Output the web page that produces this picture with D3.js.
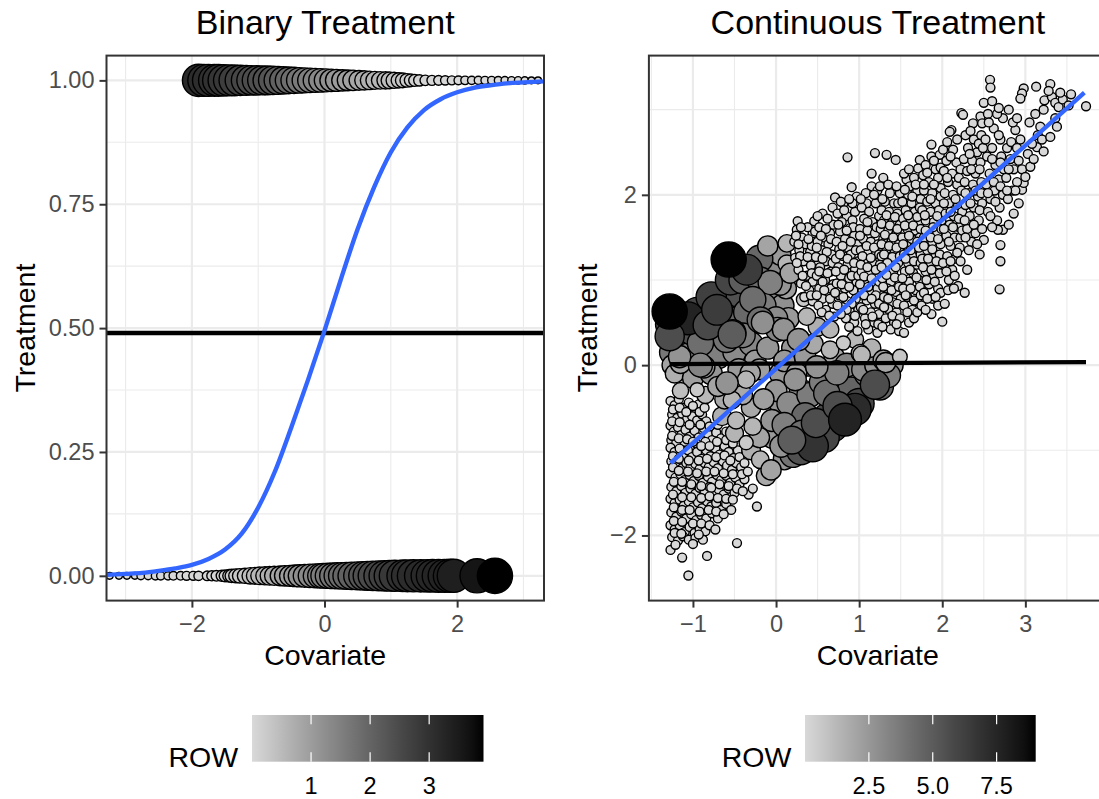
<!DOCTYPE html>
<html>
<head>
<meta charset="utf-8">
<script src="https://cdn.jsdelivr.net/npm/d3@7"></script>
<style>
  body { margin: 0; background: #fff; }
  text { font-family: "Liberation Sans", Arial, Helvetica, sans-serif; }
</style>
</head>
<body>
<svg id="chart" width="1099" height="799"></svg>
<script>
// ---- Binary treatment: [covariate, ROW], treatment = 1 (top) and 0 (bottom)
var binTop = [[-1.9,3.15],[-1.82,3.1],[-1.75,3.08],[-1.66,3.04],[-1.6,3.0],[-1.52,2.92],[-1.44,2.85],[-1.36,2.76],
  [-1.27,2.68],[-1.18,2.58],[-1.1,2.5],[-1.02,2.45],[-0.94,2.41],[-0.86,2.37],[-0.78,2.3],[-0.7,2.18],[-0.62,2.06],
  [-0.54,1.94],[-0.46,1.82],[-0.38,1.7],[-0.3,1.6],[-0.22,1.52],[-0.14,1.44],[-0.06,1.36],[0.02,1.28],[0.1,1.2],
  [0.18,1.12],[0.27,1.03],[0.35,0.96],[0.43,0.9],[0.52,0.82],[0.6,0.74],[0.68,0.67],[0.76,0.61],[0.84,0.56],
  [0.92,0.52],[0.98,0.48],[1.05,0.42],[1.12,0.35],[1.18,0.3],[1.24,0.22],[1.3,0.17],[1.36,0.13],[1.43,0.1],
  [1.52,0.07],[1.62,0.05],[1.72,0.04],[1.82,0.03],[1.92,0.025],[2.02,0.02],[2.12,0.015],[2.22,0.012],[2.32,0.01],
  [2.42,0.008],[2.52,0.006],[2.62,0.005],[2.72,0.004],[2.82,0.003],[2.92,0.002],[3.02,0.001],[3.12,0.0],[3.22,0.0]];
var binBot = [[-3.24,0.0],[-3.1,0.0],[-2.98,0.0],[-2.86,0.0],[-2.77,0.005],[-2.66,0.005],[-2.55,0.01],[-2.47,0.01],
  [-2.36,0.01],[-2.28,0.015],[-2.17,0.015],[-2.08,0.02],[-1.98,0.02],[-1.9,0.03],[-1.77,0.04],[-1.7,0.05],[-1.63,0.07],
  [-1.55,0.09],[-1.5,0.12],[-1.44,0.16],[-1.4,0.2],[-1.34,0.24],[-1.28,0.28],[-1.2,0.34],[-1.12,0.45],[-1.05,0.5],
  [-0.98,0.56],[-0.9,0.62],[-0.83,0.68],[-0.76,0.74],[-0.67,0.82],[-0.6,0.9],[-0.52,0.98],[-0.45,1.06],[-0.38,1.14],
  [-0.3,1.23],[-0.22,1.33],[-0.14,1.42],[-0.07,1.5],[-0.02,1.55],[0.05,1.63],[0.12,1.72],[0.19,1.8],[0.26,1.88],
  [0.33,1.97],[0.41,2.06],[0.5,2.17],[0.58,2.28],[0.65,2.38],[0.73,2.5],[0.82,2.6],[0.9,2.68],[0.98,2.76],[1.06,2.85],
  [1.18,3.0],[1.25,3.04],[1.34,3.1],[1.45,3.15],[1.55,3.18],[1.63,3.22],[1.72,3.26],[1.81,3.3],[1.89,3.34],[1.95,3.38],
  [2.3,3.62],[2.57,3.92]];
// logistic fit: [covariate, treatment]
var binCurve = [[-3.29,0.002],[-3.0,0.004],[-2.75,0.006],[-2.5,0.01],[-2.25,0.015],[-2.0,0.022],[-1.75,0.034],
  [-1.5,0.053],[-1.25,0.085],[-1.0,0.138],[-0.75,0.21],[-0.5,0.3],[-0.25,0.395],[0.0,0.495],[0.25,0.6],[0.5,0.7],
  [0.75,0.785],[1.0,0.855],[1.25,0.905],[1.5,0.94],[1.75,0.962],[2.0,0.976],[2.25,0.985],[2.5,0.99],[2.75,0.994],
  [3.0,0.996],[3.31,0.998]];
var binMean = 0.49;
var binRowMax = 3.92;

// ---- Continuous treatment: light dots [covariate, treatment]
var conSmallRow = 0.05;
var conSmallA = [[-1.27,-0.42],[-1.22,-0.47],[-1.17,-0.4],[-1.11,-0.5],[-1.05,-0.44],[-0.99,-0.52],[-0.93,-0.46],
  [-1.25,-0.58],[-1.19,-0.62],[-1.13,-0.57],[-1.07,-0.63],[-1.01,-0.6],[-0.95,-0.65],[-0.89,-0.58],[-0.84,-0.66],
  [-1.27,-0.71],[-1.23,-0.78],[-1.18,-0.73],[-1.14,-0.82],[-1.09,-0.76],[-1.04,-0.84],[-0.98,-0.77],[-0.93,-0.85],
  [-0.87,-0.74],[-0.82,-0.81],[-0.77,-0.88],[-0.72,-0.79],[-0.66,-0.86],[-1.26,-0.88],[-1.2,-0.91],[-1.1,-0.9],
  [-0.96,-0.92],[-0.85,-0.9],[-1.27,-0.97],[-1.22,-1.02],[-1.16,-0.98],[-1.12,-1.06],[-1.06,-1.0],[-1.01,-1.08],
  [-0.95,-1.02],[-0.9,-1.1],[-0.84,-1.0],[-0.79,-1.07],[-0.73,-0.98],[-0.68,-1.05],[-0.62,-0.95],[-0.57,-1.02],
  [-0.51,-1.09],[-0.46,-1.0],[-1.26,-1.13],[-1.19,-1.17],[-1.13,-1.21],[-1.08,-1.15],[-1.03,-1.2],[-0.97,-1.16],
  [-0.92,-1.22],[-0.86,-1.15],[-0.81,-1.2],[-0.75,-1.14],[-0.7,-1.21],[-0.64,-1.13],[-0.59,-1.18],[-0.53,-1.23],
  [-0.48,-1.15],[-0.42,-1.2],[-1.27,-1.27],[-1.21,-1.32],[-1.15,-1.28],[-1.1,-1.35],[-1.04,-1.29],[-0.99,-1.36],
  [-0.93,-1.3],[-0.88,-1.38],[-0.82,-1.31],[-0.77,-1.37],[-0.71,-1.29],[-0.66,-1.35],[-0.6,-1.3],[-0.55,-1.38],
  [-0.49,-1.32],[-0.44,-1.4],[-0.38,-1.34],[-1.26,-1.43],[-1.2,-1.48],[-1.14,-1.42],[-1.09,-1.5],[-1.03,-1.45],
  [-0.97,-1.51],[-0.92,-1.44],[-0.86,-1.49],[-0.8,-1.43],[-0.75,-1.5],[-0.69,-1.46],[-0.63,-1.52],[-0.57,-1.45],
  [-0.5,-1.5],[-1.27,-1.57],[-1.22,-1.62],[-1.16,-1.58],[-1.11,-1.65],[-1.05,-1.6],[-1.0,-1.67],[-0.94,-1.61],
  [-0.89,-1.68],[-0.83,-1.6],[-0.78,-1.66],[-0.72,-1.62],[-0.66,-1.7],[-0.6,-1.63],[-1.26,-1.73],[-1.2,-1.78],
  [-1.14,-1.72],[-1.08,-1.8],[-1.02,-1.75],[-0.96,-1.82],[-0.9,-1.76],[-0.84,-1.8],[-0.77,-1.74],[-0.7,-1.8],
  [-1.27,-1.88],[-1.22,-1.93],[-1.16,-1.88],[-1.1,-1.96],[-1.04,-1.9],[-0.98,-1.97],[-0.92,-1.92],[-0.85,-1.95],
  [-1.25,-2.02],[-1.18,-2.06],[-1.12,-2.01],[-1.05,-2.05],[-0.97,-2.03],[-0.88,-2.05],[-1.27,-2.17],[-1.13,-2.26],
  [-1.055,-2.47],[-0.83,-2.24],[-0.47,-2.09],[-0.54,-1.7],[-0.23,-1.66],[-0.33,-1.52],[-0.28,-1.45],
  [-1.24,-0.52],[-1.16,-0.5],[-1.08,-0.55],[-1.0,-0.48],[-0.92,-0.55],[-0.86,-0.5],[-1.25,-0.66],[-1.16,-0.67],
  [-1.04,-0.7],[-0.91,-0.7],[-0.8,-0.72],[-0.7,-0.7],[-0.6,-0.78],[-1.25,-0.83],[-1.17,-0.86],[-1.07,-0.87],
  [-1.0,-0.9],[-0.9,-0.95],[-0.8,-0.95],[-0.71,-0.9],[-0.6,-0.88],[-0.52,-0.92],[-1.24,-1.07],[-1.17,-1.1],
  [-1.05,-1.12],[-0.93,-1.12],[-0.83,-1.1],[-0.72,-1.08],[-0.62,-1.06],[-0.55,-1.12],[-0.44,-1.08],[-0.38,-1.15],
  [-1.24,-1.2],[-1.17,-1.24],[-1.06,-1.25],[-0.95,-1.27],[-0.84,-1.25],[-0.74,-1.25],[-0.63,-1.27],[-0.52,-1.28],
  [-0.41,-1.28],[-0.34,-1.25],[-1.23,-1.37],[-1.13,-1.37],[-1.02,-1.4],[-0.9,-1.42],[-0.78,-1.44],[-0.68,-1.4],
  [-0.57,-1.42],[-0.47,-1.45],[-0.4,-1.48],[-1.24,-1.52],[-1.13,-1.55],[-1.02,-1.55],[-0.9,-1.56],[-0.8,-1.54],
  [-0.7,-1.56],[-0.6,-1.57],[-0.52,-1.58],[-1.23,-1.67],[-1.13,-1.7],[-1.04,-1.7],[-0.92,-1.72],[-0.81,-1.7],
  [-0.72,-1.72],[-0.63,-1.75],[-1.23,-1.83],[-1.13,-1.84],[-1.0,-1.86],[-0.9,-1.86],[-0.8,-1.88],[-0.73,-1.93],
  [-1.22,-1.97],[-1.14,-1.98],[-1.0,-2.1],[-1.21,-2.11],[-0.93,-1.99]];
var conSmallB = [[0.26,1.69],[0.25,1.59],[0.31,1.5],[0.22,1.45],[0.35,1.42],[0.28,1.35],[0.41,1.33],[0.23,1.26],
  [0.33,1.22],[0.42,1.17],[0.27,1.12],[0.37,1.05],[0.44,0.98],[0.3,0.96],[0.4,0.88],[0.44,1.55],[0.38,1.62],[0.43,1.4],
  [0.34,0.8],[0.44,0.75],[0.24,1.52],[0.3,1.62],[0.39,1.48],[0.29,1.28],[0.38,1.27],[0.25,1.2],[0.32,1.05],[0.43,1.08],
  [0.36,0.93],[0.42,0.82],[0.27,1.42],
  [0.46,1.69],[0.47,1.57],[0.52,1.62],[0.58,1.5],[0.5,1.45],[0.63,1.42],[0.55,1.35],[0.67,1.3],[0.48,1.27],[0.6,1.22],
  [0.53,1.15],[0.66,1.1],[0.49,1.05],[0.59,1.0],[0.69,0.95],[0.52,0.9],[0.63,0.85],[0.56,0.78],[0.68,0.72],[0.6,0.65],
  [0.7,0.57],[0.65,1.55],[0.69,1.65],[0.56,1.78],[0.62,1.72],[0.68,1.85],[0.51,0.7],[0.5,1.75],[0.6,1.6],[0.54,1.52],
  [0.66,1.48],[0.49,1.38],[0.61,1.33],[0.56,1.25],[0.68,1.2],[0.52,1.1],[0.62,1.08],[0.56,0.98],[0.66,0.9],[0.58,0.88],
  [0.49,0.82],[0.65,0.78],[0.55,0.62],[0.64,0.58],
  [0.71,1.97],[0.81,1.9],[0.91,2.09],[0.97,1.98],[0.77,1.57],[0.89,1.61],[0.74,1.78],[0.85,1.75],[0.95,1.8],
  [0.79,1.68],[0.92,1.7],[0.73,1.45],[0.83,1.48],[0.94,1.52],[0.76,1.36],[0.87,1.38],[0.98,1.42],[0.72,1.25],
  [0.81,1.28],[0.9,1.3],[0.99,1.22],[0.75,1.15],[0.86,1.18],[0.95,1.12],[0.78,1.05],[0.88,1.02],[0.97,0.98],
  [0.73,0.96],[0.83,0.9],[0.93,0.88],[0.76,0.82],[0.86,0.75],[0.96,0.78],[0.8,0.68],[0.9,0.62],[0.99,0.65],
  [0.84,0.55],[0.94,0.5],[0.88,0.45],[0.98,0.4],[0.92,1.9],[0.86,2.44],[0.78,1.92],[0.88,1.95],[0.82,1.82],[0.93,1.62],
  [0.75,1.65],[0.85,1.58],[0.8,1.4],[0.9,1.45],[0.96,1.35],[0.77,1.3],[0.86,1.25],[0.94,1.2],[0.72,1.1],[0.82,1.12],
  [0.91,1.05],[0.99,1.05],[0.79,0.95],[0.88,0.92],[0.71,0.85],[0.81,0.8],[0.91,0.72],[0.74,0.7],[0.85,0.65],
  [0.95,0.58],[0.78,0.6],
  [1.19,2.49],[1.09,1.9],[1.15,2.1],[1.22,2.05],[1.03,1.85],[1.12,1.8],[1.2,1.9],[1.06,1.72],[1.16,1.68],[1.24,1.75],
  [1.01,1.6],[1.1,1.58],[1.19,1.55],[1.05,1.48],[1.14,1.45],[1.23,1.42],[1.02,1.35],[1.11,1.32],[1.2,1.3],[1.07,1.22],
  [1.16,1.2],[1.25,1.18],[1.03,1.1],[1.12,1.08],[1.21,1.05],[1.08,0.98],[1.17,0.95],[1.04,0.88],[1.13,0.85],[1.22,0.9],
  [1.09,0.76],[1.19,0.72],[1.02,0.68],[1.14,0.62],[1.24,0.6],[1.07,0.55],[1.18,0.5],[1.11,0.42],[1.22,0.38],[1.15,2.25],
  [1.08,2.02],[1.18,2.0],[1.02,1.95],[1.1,1.68],[1.21,1.62],[1.01,1.52],[1.09,1.4],[1.18,1.38],[1.24,1.3],[1.04,1.28],
  [1.14,1.26],[1.02,1.18],[1.1,1.15],[1.2,1.12],[1.06,1.04],[1.15,1.02],[1.24,0.98],[1.01,0.95],[1.11,0.92],[1.2,0.82],
  [1.06,0.82],[1.15,0.78],[1.24,0.72],[1.05,0.65],[1.16,0.57],[1.23,0.48],[1.08,0.48],
  [1.33,2.47],[1.44,2.41],[1.29,2.2],[1.25,2.1],[1.37,2.02],[1.49,2.02],[1.31,1.92],[1.42,1.9],[1.27,1.82],[1.36,1.8],
  [1.46,1.78],[1.3,1.7],[1.4,1.68],[1.49,1.65],[1.26,1.6],[1.35,1.58],[1.45,1.55],[1.29,1.48],[1.39,1.45],[1.48,1.42],
  [1.33,1.36],[1.43,1.33],[1.27,1.28],[1.37,1.24],[1.47,1.2],[1.31,1.14],[1.41,1.1],[1.28,1.02],[1.38,0.98],[1.48,1.0],
  [1.34,0.9],[1.44,0.86],[1.3,0.8],[1.4,0.74],[1.5,0.78],[1.35,0.66],[1.45,0.62],[1.32,0.55],[1.42,0.5],[1.38,0.42],
  [1.48,0.4],[1.35,2.12],[1.45,2.1],[1.28,1.95],[1.47,1.9],[1.33,1.76],[1.43,1.74],[1.27,1.66],[1.37,1.64],[1.46,1.6],
  [1.31,1.53],[1.41,1.5],[1.27,1.42],[1.36,1.4],[1.45,1.38],[1.3,1.3],[1.4,1.27],[1.49,1.28],[1.34,1.2],[1.44,1.15],
  [1.27,1.15],[1.33,1.06],[1.43,1.03],[1.29,0.92],[1.39,0.88],[1.48,0.92],[1.35,0.78],[1.46,0.72],[1.3,0.68],
  [1.4,0.58],[1.49,0.55],[1.28,0.45],[1.45,0.48],
  [1.57,2.18],[1.61,2.1],[1.73,2.41],[1.71,2.31],[1.54,2.25],[1.66,2.2],[1.59,2.0],[1.7,2.05],[1.52,1.92],[1.63,1.9],
  [1.74,1.95],[1.56,1.82],[1.67,1.8],[1.53,1.72],[1.62,1.7],[1.72,1.68],[1.58,1.6],[1.68,1.58],[1.52,1.5],[1.63,1.48],
  [1.73,1.5],[1.57,1.4],[1.67,1.38],[1.54,1.3],[1.64,1.28],[1.74,1.3],[1.59,1.2],[1.69,1.18],[1.55,1.1],[1.65,1.08],
  [1.72,1.0],[1.6,0.98],[1.53,0.9],[1.68,0.88],[1.58,0.8],[1.7,0.75],[1.54,0.7],[1.64,0.65],[1.54,0.38],[1.6,0.5],
  [1.66,0.55],[1.6,2.3],[1.68,2.12],[1.55,2.06],[1.64,1.98],[1.73,1.85],[1.59,1.76],[1.7,1.74],[1.55,1.64],[1.65,1.64],
  [1.74,1.6],[1.6,1.52],[1.7,1.45],[1.53,1.42],[1.62,1.35],[1.72,1.38],[1.56,1.25],[1.66,1.22],[1.74,1.2],[1.61,1.12],
  [1.52,1.02],[1.69,1.03],[1.62,0.9],[1.73,0.92],[1.56,0.82],[1.66,0.76],[1.74,0.82],[1.58,0.62],[1.7,0.62],[1.75,0.7],
  [1.87,2.59],[1.87,2.45],[1.97,2.47],[1.77,2.23],[1.8,2.35],[1.92,2.3],[1.84,2.15],[1.95,2.2],[1.78,2.05],[1.88,2.02],
  [1.98,2.08],[1.82,1.92],[1.92,1.9],[1.76,1.82],[1.86,1.8],[1.96,1.82],[1.8,1.7],[1.9,1.68],[1.99,1.7],[1.84,1.58],
  [1.94,1.55],[1.78,1.5],[1.88,1.45],[1.98,1.42],[1.82,1.35],[1.92,1.3],[1.76,1.25],[1.86,1.2],[1.96,1.18],[1.8,1.1],
  [1.9,1.05],[1.84,0.95],[1.95,0.9],[1.78,0.85],[1.88,0.78],[1.87,0.6],[1.95,0.7],[1.8,0.65],[1.9,2.4],[1.98,2.32],
  [1.82,2.26],[1.9,2.12],[1.78,2.12],[1.98,1.98],[1.86,1.95],[1.94,1.75],[1.79,1.76],[1.89,1.62],[1.99,1.6],[1.8,1.58],
  [1.86,1.5],[1.95,1.48],[1.78,1.4],[1.88,1.36],[1.97,1.3],[1.83,1.25],[1.93,1.22],[1.77,1.15],[1.87,1.12],[1.97,1.08],
  [1.81,1.0],[1.91,0.98],[1.98,0.85],[1.82,0.78],[1.92,0.8],
  [2.01,2.53],[2.13,2.53],[2.11,2.76],[2.09,2.74],[2.23,2.96],[2.25,2.94],[2.05,2.4],[2.17,2.38],[2.02,2.28],
  [2.12,2.25],[2.22,2.3],[2.07,2.15],[2.18,2.12],[2.03,2.02],[2.13,2.0],[2.23,2.05],[2.08,1.9],[2.19,1.88],[2.04,1.78],
  [2.14,1.75],[2.24,1.8],[2.09,1.65],[2.2,1.62],[2.05,1.52],[2.15,1.5],[2.1,1.4],[2.21,1.38],[2.06,1.28],[2.16,1.25],
  [2.12,1.12],[2.03,0.72],[2.0,0.51],[2.19,0.93],[2.08,1.0],[2.22,1.5],[2.06,2.62],[2.18,2.65],[2.1,2.45],[2.2,2.2],
  [2.06,2.2],[2.16,1.95],[2.02,1.9],[2.1,1.8],[2.2,1.72],[2.02,1.6],[2.13,1.62],[2.24,1.58],[2.08,1.45],[2.18,1.32],
  [2.01,1.2],[2.1,1.22],[2.22,1.22],[2.05,1.1],[2.15,1.05],[2.07,0.88],[2.14,0.9],
  [2.37,2.84],[2.46,2.92],[2.48,2.84],[2.27,0.85],[2.3,1.12],[2.28,2.7],[2.38,2.65],[2.47,2.7],[2.31,2.55],[2.42,2.5],
  [2.26,2.42],[2.36,2.4],[2.46,2.38],[2.3,2.28],[2.4,2.25],[2.27,2.15],[2.37,2.12],[2.47,2.15],[2.32,2.02],[2.43,1.98],
  [2.28,1.88],[2.38,1.85],[2.48,1.9],[2.33,1.75],[2.44,1.7],[2.3,1.6],[2.4,1.55],[2.35,1.45],[2.5,1.47],[2.45,1.3],
  [2.34,2.75],[2.44,2.6],[2.33,2.48],[2.49,2.55],[2.35,2.3],[2.45,2.3],[2.28,2.02],[2.4,2.05],[2.34,1.9],[2.45,1.82],
  [2.27,1.7],[2.38,1.65],[2.48,1.6],[2.28,1.5],[2.42,1.42],[2.32,1.35],[2.47,2.02],
  [2.575,3.35],[2.58,3.26],[2.5,3.08],[2.7,2.65],[2.62,2.78],[2.52,2.65],[2.73,2.9],[2.55,2.95],[2.66,2.95],[2.6,2.55],
  [2.71,2.45],[2.54,2.45],[2.64,2.35],[2.74,2.3],[2.57,2.25],[2.68,2.18],[2.53,2.12],[2.63,2.05],[2.73,2.0],[2.58,1.95],
  [2.69,1.85],[2.55,1.8],[2.66,1.7],[2.73,1.59],[2.67,1.59],[2.7,1.41],[2.7,1.22],[2.69,0.89],[2.6,1.62],
  [2.6,3.1],[2.68,3.02],[2.56,2.85],[2.68,2.7],[2.6,2.42],[2.7,2.38],[2.62,2.15],[2.7,2.1],[2.55,2.02],[2.64,1.92],
  [2.58,1.75],
  [2.8,3.0],[2.98,3.25],[2.96,3.19],[2.94,3.13],[2.78,2.55],[2.88,2.76],[2.94,2.65],[2.85,2.85],[2.96,2.06],[2.98,2.14],
  [2.82,2.42],[2.92,2.4],[2.86,2.3],[2.77,2.2],[2.9,2.15],[2.84,2.05],[2.79,1.95],[2.92,1.9],[2.86,1.78],[2.8,1.65],
  [2.9,2.9],[2.83,2.62],[2.9,2.55],[2.96,2.3],[2.8,2.3],[2.88,2.05],[2.78,2.05],
  [3.13,3.27],[3.23,3.11],[3.22,3.0],[3.14,2.56],[3.22,2.51],[3.06,2.33],[3.0,2.21],[3.05,2.85],[3.12,2.95],[3.18,2.8],
  [3.08,2.6],[3.03,2.48],[3.15,2.7],[3.2,2.65],[3.1,2.42],
  [3.3,3.3],[3.32,3.15],[3.36,3.08],[3.4,3.03],[3.36,2.9],[3.3,2.68],[3.28,3.22],[3.45,3.12],[3.38,2.8],[3.42,3.2],
  [3.73,3.04],[3.52,3.05],[3.55,3.18]];
// heavy-weight dots: [covariate, treatment, ROW]
var conBig = [[-1.2,0.45,6.4],[-0.95,0.62,6.0],[-0.88,0.35,5.0],[-1.1,0.3,4.9],[-0.65,0.52,5.2],[-0.75,0.3,4.5],
  [-0.6,0.75,6.0],[-0.45,0.85,5.5],[-1.25,0.15,3.8],[-1.05,0.12,3.5],[-0.7,0.1,3.5],[-0.5,0.15,3.0],[-0.3,0.25,3.2],
  [-0.42,0.55,4.5],[-0.78,0.8,6.2],[-0.3,1.05,5.0],[-0.12,1.2,3.6],[0.0,1.1,3.0],[-0.05,0.75,3.4],[0.08,0.7,2.8],
  [-0.35,0.62,4.4],[0.12,0.9,2.2],[-0.22,0.88,4.0],[0.05,1.3,2.4],[-0.2,1.25,4.5],
  [-0.65,-0.6,1.6],[-0.5,-0.8,1.4],[-0.3,-1.0,1.6],[-0.12,-1.3,1.8],[0.1,-1.1,2.6],[0.2,-1.05,4.0],[-0.05,-0.85,2.4],
  [0.2,-0.6,3.2],[0.05,-0.45,2.6],[-0.3,-0.5,1.8],[0.3,-0.3,3.0],[0.05,-0.1,2.4],[0.4,0.0,2.6],[0.7,0.1,2.0],
  [0.85,-0.15,3.6],[1.0,0.05,2.6],[1.4,0.0,2.4],[1.25,-0.25,4.6],[1.05,-0.3,5.0],[0.8,-0.4,5.0],[-0.25,0.05,2.4],
  [-0.6,0.3,4.0],[-1.0,0.4,5.5],[-1.27,0.48,6.0],[-1.25,0.0,2.0],[-1.1,-0.15,1.6],[-0.15,0.7,3.6],[0.15,0.55,2.4],
  [0.2,0.2,2.6],[-0.4,0.35,3.6],[0.0,0.55,3.0],[-0.55,1.0,6.0],[-0.1,1.4,2.0],[0.05,0.95,2.6],
  [-0.1,0.2,2.6],[0.1,0.05,2.4],[-0.2,-0.05,2.2],[0.35,0.1,2.4],[0.45,0.25,1.8],[0.0,-0.3,2.5],[-0.45,-0.05,2.4],
  [0.15,-0.45,3.0],[0.4,-0.35,3.6],[-0.15,-0.4,2.2],[-0.4,-0.35,1.8],[0.55,-0.2,3.6],[0.35,-0.6,4.5],[-0.05,-0.65,2.6],
  [-0.2,-0.85,2.0],[0.1,-0.7,3.5],
  [0.62,-0.62,5.8],[0.68,-0.72,6.5],[0.9,-0.3,4.6],[1.0,-0.45,6.0],[1.1,-0.1,4.2],[0.85,0.0,3.2],[1.05,-0.05,3.0],
  [1.2,0.0,2.6],[0.58,-0.85,6.0],[0.3,-1.0,5.5],[1.35,-0.12,3.5],[0.95,0.3,1.2],[1.15,0.2,1.5],[0.5,0.45,1.6],
  [-1.22,-0.1,1.6],[-1.0,-0.15,2.2],[-0.78,-0.1,2.6],[-0.62,-0.4,1.8],[-0.85,-0.35,1.2],[-1.15,-0.3,1.0],[-0.48,-0.65,1.2],
  [0.13,1.43,1.3],[0.13,1.19,1.3],[0.17,1.08,2.0],[0.33,0.77,0.6],[0.37,0.57,1.3],[0.65,0.18,1.3],[0.81,0.26,0.6],
  [0.65,0.42,1.3],[1.01,0.14,1.3],[1.03,0.12,1.3],[1.29,0.06,2.0],[1.32,0.03,2.0],[1.49,0.1,0.7],[0.25,-0.09,2.0],
  [-0.31,-0.09,2.0],[-0.36,-0.17,1.3],[-0.7,-0.25,2.0],[-0.95,-0.29,0.6],[-1.15,0.02,2.0],[-0.53,-0.41,1.3],
  [-0.28,-0.72,1.3],[-0.36,-0.91,0.6],[-0.19,-1.11,1.3],[-0.06,-1.23,2.0],
  [-0.4,1.0,4.9],[-0.19,1.0,4.2],[-0.07,0.97,3.4],[-0.28,0.77,4.2],[-0.19,0.53,4.2],[-0.52,0.38,4.2],[-0.91,0.26,4.2],
  [0.02,0.42,3.3],[-0.16,0.5,2.8],[0.09,0.42,2.7],[0.27,0.3,2.7],[0.31,-0.8,4.2],[0.61,-0.33,4.2],[0.73,-0.09,3.4],
  [0.49,-0.02,2.7],[0.23,-0.17,2.7],[0.06,-0.95,2.7],[-0.59,-0.21,2.7],[-0.87,-0.02,2.7],[-0.91,0.0,3.3],[-1.16,0.1,2.7],
  [-1.06,0.55,7.6],[-0.82,0.47,5.8],[-0.71,0.65,6.4],[-0.35,1.12,6.4],[0.95,-0.52,7.2],[0.44,-0.95,6.8],
  [1.19,-0.23,5.6],[0.48,-0.68,5.6],[0.74,-0.48,5.6],[0.19,-0.88,4.9],[-1.28,0.34,5.6],[-0.53,0.36,4.9],
  [0.83,-0.64,7.6],[-1.28,0.63,9.0],[-0.57,1.24,9.0]];
var conFit = [[-1.27,-1.15],[3.71,3.2]];
var conFlat = [[-1.28,0.012],[3.73,0.036]];
var conRowMax = 9.03;

// ---- ticks
var binXTicks = [-2, 0, 2], binXMinor = [-3, -1, 1, 3];
var binYTicks = [0, 0.25, 0.5, 0.75, 1], binYMinor = [0.125, 0.375, 0.625, 0.875];
var conXTicks = [-1, 0, 1, 2, 3], conXMinor = [-1.5, -0.5, 0.5, 1.5, 2.5, 3.5];
var conYTicks = [-2, 0, 2], conYMinor = [-1, 1, 3];
var binLegendTicks = [1, 2, 3], conLegendTicks = [2.5, 5.0, 7.5];

var FONT = '"Liberation Sans", Arial, Helvetica, sans-serif';
var svg = d3.select('#chart');
svg.append('rect').attr('width', 1099).attr('height', 799).attr('fill', '#fff');

function fillScale(max) {
    return d3.scaleLinear().domain([0, max]).range(['#d9d9d9', '#000000']).interpolate(d3.interpolateLab);
}
function sizeScale(max) {
    return d3.scaleSqrt().domain([0, max]).range([3.4, 17.6]);
}

function drawPanel(p) {
    var x = p.x, y = p.y;
    var x0 = x.range()[0], x1 = x.range()[1], yb = y.range()[0], yt = y.range()[1];
    var g = svg.append('g');
    // grid
    g.selectAll('.vminor').data(p.xMinor).enter().append('line')
        .attr('x1', x).attr('x2', x).attr('y1', yt).attr('y2', yb)
        .attr('stroke', '#ebebeb').attr('stroke-width', 1.1);
    g.selectAll('.hminor').data(p.yMinor).enter().append('line')
        .attr('y1', y).attr('y2', y).attr('x1', x0).attr('x2', x1)
        .attr('stroke', '#ebebeb').attr('stroke-width', 1.1);
    g.selectAll('.vmajor').data(p.xTicks).enter().append('line')
        .attr('x1', x).attr('x2', x).attr('y1', yt).attr('y2', yb)
        .attr('stroke', '#ebebeb').attr('stroke-width', 2.2);
    g.selectAll('.hmajor').data(p.yTicks).enter().append('line')
        .attr('y1', y).attr('y2', y).attr('x1', x0).attr('x2', x1)
        .attr('stroke', '#ebebeb').attr('stroke-width', 2.2);

    svg.append('clipPath').attr('id', p.id).append('rect')
        .attr('x', x0).attr('y', yt).attr('width', x1 - x0).attr('height', yb - yt);
    var inner = g.append('g').attr('clip-path', 'url(#' + p.id + ')');

    p.layers.forEach(function (layer) {
        inner.append('g').selectAll('circle').data(layer).enter().append('circle')
            .attr('cx', function (d) { return x(d.x); })
            .attr('cy', function (d) { return y(d.y); })
            .attr('r', function (d) { return p.size(d.row); })
            .attr('fill', function (d) { return p.fill(d.row); })
            .attr('stroke', '#000').attr('stroke-width', 1.4);
    });

    var line = d3.line().x(function (d) { return x(d[0]); }).y(function (d) { return y(d[1]); });
    inner.append('path').datum(p.flat).attr('d', line)
        .attr('fill', 'none').attr('stroke', '#000').attr('stroke-width', 4.4);
    inner.append('path').datum(p.fit).attr('d', line.curve(d3.curveMonotoneX))
        .attr('fill', 'none').attr('stroke', '#3366FF').attr('stroke-width', 4.4);

    g.append('rect').attr('x', x0).attr('y', yt).attr('width', x1 - x0).attr('height', yb - yt)
        .attr('fill', 'none').attr('stroke', '#333333').attr('stroke-width', 2);

    var ax = g.append('g').attr('transform', 'translate(0,' + yb + ')')
        .call(d3.axisBottom(x).tickValues(p.xTicks).tickSize(7).tickPadding(8).tickFormat(d3.format('d')));
    var ay = g.append('g').attr('transform', 'translate(' + x0 + ',0)')
        .call(d3.axisLeft(y).tickValues(p.yTicks).tickSize(7).tickPadding(5).tickFormat(p.yFormat));
    [ax, ay].forEach(function (a) {
        a.attr('font-family', FONT).attr('font-size', 23.5);
        a.select('.domain').remove();
        a.selectAll('.tick line').attr('stroke', '#333333').attr('stroke-width', 2);
        a.selectAll('.tick text').attr('fill', '#4d4d4d');
    });

    var cx = (x0 + x1) / 2, cy = (yt + yb) / 2;
    g.append('text').attr('x', cx).attr('y', 34).attr('text-anchor', 'middle')
        .attr('font-size', 34).attr('fill', '#000').text(p.title);
    g.append('text').attr('x', cx).attr('y', 665).attr('text-anchor', 'middle')
        .attr('font-size', 28.5).attr('fill', '#000').text('Covariate');
    g.append('text').attr('transform', 'translate(' + p.yTitleX + ',' + cy + ') rotate(-90)')
        .attr('text-anchor', 'middle').attr('font-size', 28.5).attr('fill', '#000').text('Treatment');
}

function drawLegend(l) {
    var g = svg.append('g');
    var top = 715, h = 46.7;
    var s = d3.scaleLinear().domain([0, l.max]).range([l.x0, l.x1]);
    var grad = svg.append('defs').append('linearGradient').attr('id', l.id)
        .attr('x1', '0%').attr('x2', '100%').attr('y1', '0%').attr('y2', '0%');
    d3.range(0, 1.0001, 0.05).forEach(function (t) {
        grad.append('stop').attr('offset', (t * 100) + '%').attr('stop-color', l.fill(t * l.max));
    });
    g.append('rect').attr('x', l.x0).attr('y', top).attr('width', l.x1 - l.x0).attr('height', h)
        .attr('fill', 'url(#' + l.id + ')');
    l.ticks.forEach(function (v) {
        g.append('line').attr('x1', s(v)).attr('x2', s(v)).attr('y1', top).attr('y2', top + h / 5)
            .attr('stroke', '#fff').attr('stroke-width', 1.2);
        g.append('line').attr('x1', s(v)).attr('x2', s(v)).attr('y1', top + h * 4 / 5).attr('y2', top + h)
            .attr('stroke', '#fff').attr('stroke-width', 1.2);
        g.append('text').attr('x', s(v)).attr('y', 794).attr('text-anchor', 'middle')
            .attr('font-size', 23.5).attr('fill', '#000').text(l.format(v));
    });
    g.append('text').attr('x', l.titleX).attr('y', 767).attr('font-size', 28.5).attr('fill', '#000').text('ROW');
}

function toDots(arr, yval) {
    return arr.map(function (d) { return { x: d[0], y: yval, row: d[1] }; });
}
function toXY(arr, row) {
    return arr.map(function (d) { return { x: d[0], y: d[1], row: row }; });
}

var binFill = fillScale(binRowMax), conFill = fillScale(conRowMax);
var binX = d3.scaleLinear().domain([-3.288, 3.31]).range([106.5, 544]);
var binY = d3.scaleLinear().domain([-0.05, 1.05]).range([600.6, 55.6]);
var conX = d3.scaleLinear().domain([-1.53, 3.98]).range([648.9, 1106.8]);
var conY = d3.scaleLinear().domain([-2.765, 3.635]).range([600.6, 55.6]);

drawPanel({
    id: 'clipBin', x: binX, y: binY, title: 'Binary Treatment', yTitleX: 35,
    xTicks: binXTicks, xMinor: binXMinor, yTicks: binYTicks, yMinor: binYMinor,
    yFormat: d3.format('.2f'), fill: binFill, size: sizeScale(binRowMax),
    layers: [toDots(binBot, 0), toDots(binTop, 1)],
    flat: [[binX.domain()[0], binMean], [binX.domain()[1], binMean]],
    fit: binCurve
});
drawPanel({
    id: 'clipCon', x: conX, y: conY, title: 'Continuous Treatment', yTitleX: 597,
    xTicks: conXTicks, xMinor: conXMinor, yTicks: conYTicks, yMinor: conYMinor,
    yFormat: d3.format('d'), fill: conFill, size: sizeScale(conRowMax),
    layers: [toXY(conSmallA, conSmallRow),
             conBig.map(function (d) { return { x: d[0], y: d[1], row: d[2] }; }),
             toXY(conSmallB, conSmallRow)],
    flat: conFlat, fit: conFit
});

drawLegend({ id: 'gradBin', x0: 252, x1: 483.5, max: binRowMax, fill: binFill,
    ticks: binLegendTicks, format: d3.format('d'), titleX: 168.5 });
drawLegend({ id: 'gradCon', x0: 805, x1: 1035.7, max: conRowMax, fill: conFill,
    ticks: conLegendTicks, format: d3.format('.1f'), titleX: 721.7 });
</script>
</body>
</html>
